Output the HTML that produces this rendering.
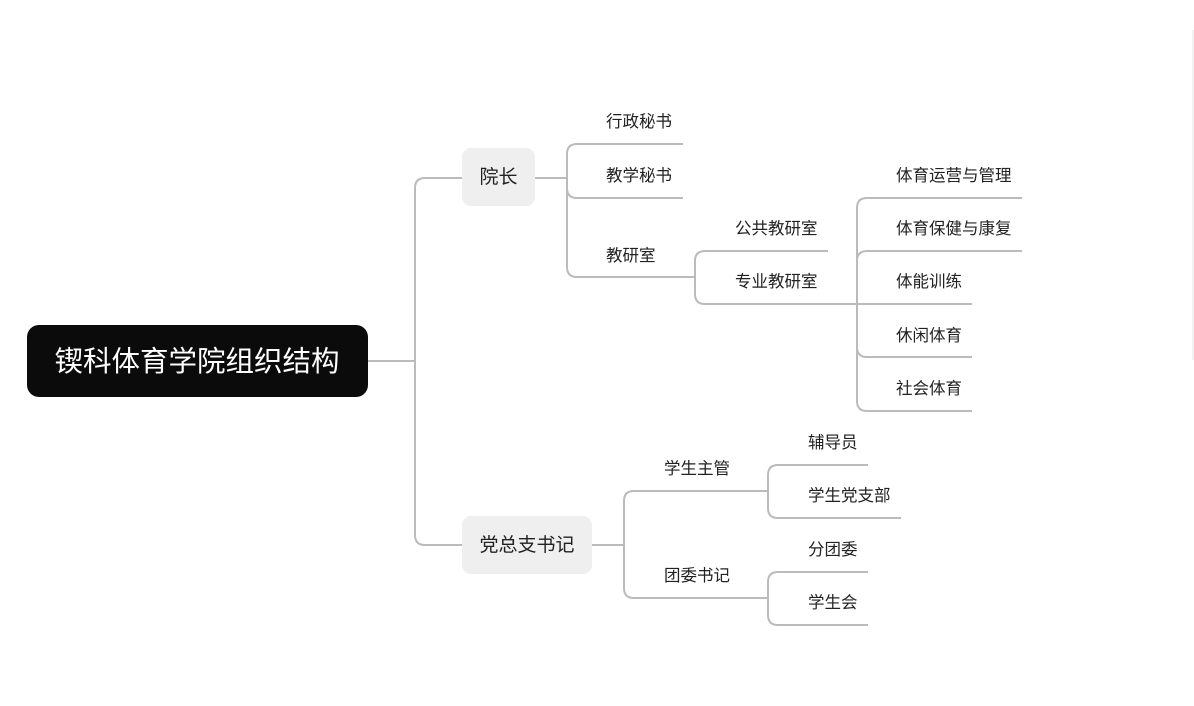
<!DOCTYPE html>
<html><head><meta charset="utf-8"><style>
html,body{margin:0;padding:0;background:#fff;}
svg{display:block;}
text{font-family:"Liberation Sans","Noto Sans CJK SC",sans-serif;fill:#222;font-size:16.5px;}
</style></head><body>
<svg width="1194" height="706" viewBox="0 0 1194 706">
<g fill="none" stroke="#bbb" stroke-width="2">
<path d="M368 361 H415"/>
<path d="M415 361 V188 Q415 178 425 178 H462"/>
<path d="M415 361 V535 Q415 545 425 545 H462"/>
<path d="M535 178 H567"/>
<path d="M567 178 V154 Q567 144 577 144 H683"/>
<path d="M567 178 V188 Q567 198 577 198 H683"/>
<path d="M567 178 V267 Q567 277 577 277 H695"/>
<path d="M695 277 V261 Q695 251 705 251 H828"/>
<path d="M695 277 V294 Q695 304 705 304 H828"/>
<path d="M828 304 H857"/>
<path d="M857 304 V208 Q857 198 867 198 H1022"/>
<path d="M857 304 V261 Q857 251 867 251 H1022"/>
<path d="M857 304 H972"/>
<path d="M857 304 V347 Q857 357 867 357 H972"/>
<path d="M857 304 V401 Q857 411 867 411 H972"/>
<path d="M592 545 H624"/>
<path d="M624 545 V501 Q624 491 634 491 H768"/>
<path d="M624 545 V588 Q624 598 634 598 H768"/>
<path d="M768 491 V475 Q768 465 778 465 H868"/>
<path d="M768 491 V508 Q768 518 778 518 H901"/>
<path d="M768 598 V582 Q768 572 778 572 H868"/>
<path d="M768 598 V615 Q768 625 778 625 H868"/>
</g>
<line x1="1193" y1="30" x2="1193" y2="360" stroke="#f2f2f2" stroke-width="2"/>
<rect x="27" y="325" width="341" height="72" rx="12" fill="#0b0b0b"/>
<text x="197" y="371" text-anchor="middle" style="fill:#fff;font-size:28.5px">锲科体育学院组织结构</text>
<rect x="462" y="148" width="73" height="58" rx="9" fill="#efefef"/>
<text x="498.5" y="183" text-anchor="middle" style="font-size:19px">院长</text>
<rect x="462" y="516" width="130" height="58" rx="9" fill="#efefef"/>
<text x="527" y="551" text-anchor="middle" style="font-size:19px">党总支书记</text>
<text x="606" y="127">行政秘书</text>
<text x="606" y="181">教学秘书</text>
<text x="606" y="261">教研室</text>
<text x="735" y="234">公共教研室</text>
<text x="735" y="287">专业教研室</text>
<text x="896" y="181">体育运营与管理</text>
<text x="896" y="234">体育保健与康复</text>
<text x="896" y="287">体能训练</text>
<text x="896" y="341">休闲体育</text>
<text x="896" y="394">社会体育</text>
<text x="664" y="474">学生主管</text>
<text x="664" y="581">团委书记</text>
<text x="808" y="448">辅导员</text>
<text x="808" y="501">学生党支部</text>
<text x="808" y="555">分团委</text>
<text x="808" y="608">学生会</text>
</svg>
</body></html>
